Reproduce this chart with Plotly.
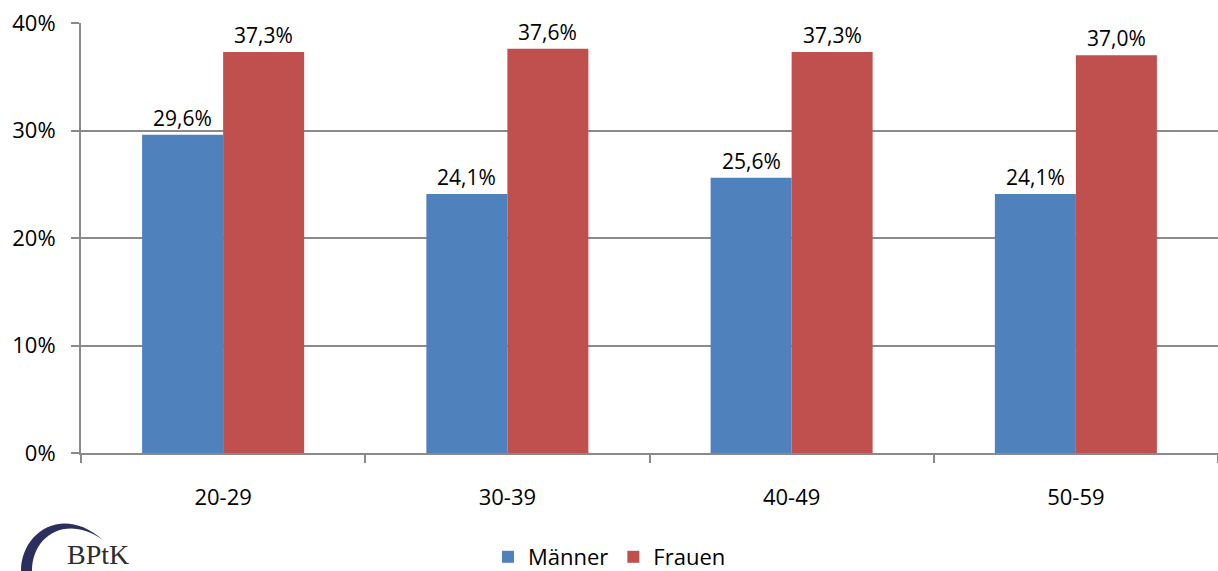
import plotly.graph_objects as go

# Age groups and shares (percent)
age_groups = ["20-29", "30-39", "40-49", "50-59"]
maenner = [29.6, 24.1, 25.6, 24.1]
frauen = [37.3, 37.6, 37.3, 37.0]
y_ticks = [0, 10, 20, 30, 40]
y_tick_labels = [f"{v}%" for v in y_ticks]

W, H = 1218, 571
ML, MR, MT, MB = 81, 0, 23, 118
PW, PH = W - ML - MR, H - MT - MB
BARGAP = 0.43


def px(x):
    return (x - ML) / PW


def py(y):
    return (H - MB - y) / PH


def fmt(v):
    return f"{v:.1f}".replace(".", ",") + "%"


FONT = "Open Sans"
GRID = "#8a8a8a"

fig = go.Figure()
series = [("Männer", maenner, "#4F81BD"), ("Frauen", frauen, "#C0504D")]
for name, vals, color in series:
    fig.add_trace(go.Bar(
        name=name, x=age_groups, y=vals,
        marker=dict(color=color, line=dict(width=0)),
        hovertemplate="%{x}: %{y:.1f}%<extra>" + name + "</extra>",
    ))

# value labels above each bar, offset to the bar centre within its group
cat_px = PW / len(age_groups)
bar_px = cat_px * (1 - BARGAP) / len(series)
for i, (name, vals, color) in enumerate(series):
    shift = (i - (len(series) - 1) / 2) * bar_px
    for cat, v in zip(age_groups, vals):
        fig.add_annotation(
            x=cat, y=v, xref="x", yref="y", xshift=shift, yshift=1,
            xanchor="center", yanchor="bottom", showarrow=False,
            text=fmt(v), font=dict(family=FONT, size=21, color="#000000"),
        )

# BPtK logo: arc crescent and wordmark
fig.add_shape(
    type="path", xref="paper", yref="paper",
    path=(f"M {px(21)},{py(571)} "
          f"C {px(21)},{py(533)} {px(62)},{py(504)} {px(103)},{py(540)} "
          f"C {px(66)},{py(514)} {px(32)},{py(536)} {px(32)},{py(571)} Z"),
    fillcolor="#2b2f5e", line=dict(width=0), layer="above",
)
fig.add_annotation(
    x=px(65), y=py(572), xref="paper", yref="paper",
    xanchor="left", yanchor="bottom", showarrow=False,
    text="BPtK", font=dict(family="Liberation Serif", size=28, color="#2d2d2d"),
)

fig.update_layout(
    width=W, height=H,
    margin=dict(l=ML, r=MR, t=MT, b=MB, pad=0, autoexpand=False),
    paper_bgcolor="white", plot_bgcolor="white",
    barmode="group", bargap=BARGAP, bargroupgap=0,
    font=dict(family=FONT, size=22, color="#000000"),
    showlegend=True,
    legend=dict(
        orientation="h", x=px(488), xanchor="left", y=py(557), yanchor="middle",
        font=dict(family=FONT, size=22, color="#000000"),
        itemwidth=30, traceorder="normal",
        bgcolor="rgba(0,0,0,0)",
    ),
    xaxis=dict(
        type="category", showline=True, linecolor=GRID, linewidth=2,
        ticks="outside", tickson="boundaries", ticklen=8, tickwidth=2, tickcolor=GRID,
        showgrid=False, ticklabelstandoff=24,
        tickfont=dict(family=FONT, size=22),
    ),
    yaxis=dict(
        range=[0, 40], tickmode="array", tickvals=y_ticks, ticktext=y_tick_labels,
        showline=True, linecolor=GRID, linewidth=2,
        ticks="outside", ticklen=8, tickwidth=2, tickcolor=GRID,
        showgrid=True, gridcolor=GRID, gridwidth=2,
        zeroline=False, ticklabelstandoff=11,
        tickfont=dict(family=FONT, size=22),
    ),
)

fig.write_html("out.html")
